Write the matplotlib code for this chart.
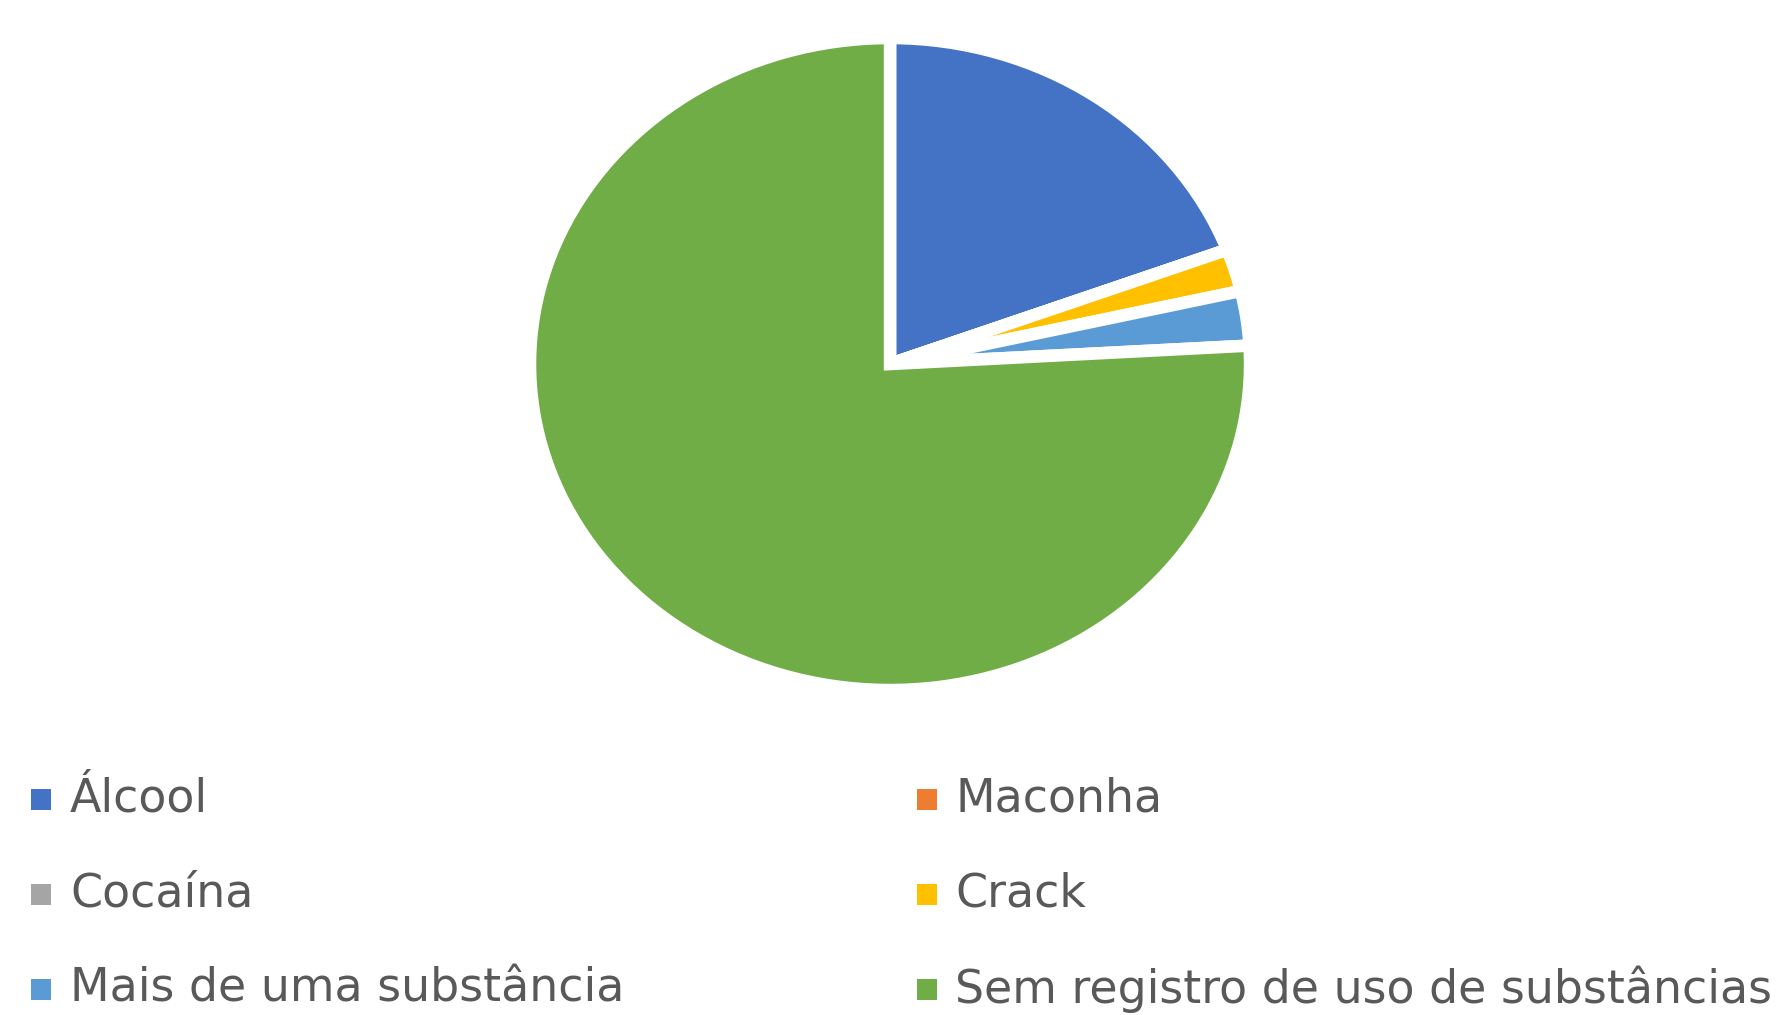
import matplotlib
matplotlib.use("Agg")
import matplotlib.pyplot as plt
from matplotlib.patches import Rectangle

# Dados (percentuais)
categorias = [
    "Álcool",
    "Maconha",
    "Cocaína",
    "Crack",
    "Mais de uma substância",
    "Sem registro de uso de substâncias",
]
valores = [19.3, 0.0, 0.0, 2.1, 2.7, 75.9]
cores = ["#4472C4", "#ED7D31", "#A5A5A5", "#FFC000", "#5B9BD5", "#70AD47"]

# Figura
fig = plt.figure(figsize=(17.76, 10.15), dpi=100)

# Eixo da pizza (levemente achatado, como no original)
ax = fig.add_axes([0.2883, 0.3041, 0.4257, 0.6745])
ax.pie(
    valores,
    colors=cores,
    startangle=90,
    counterclock=False,
    radius=1.0,
    wedgeprops=dict(edgecolor="white", linewidth=9),
)
ax.set_aspect("auto")
ax.set_xlim(-1.05, 1.05)
ax.set_ylim(-1.05, 1.05)
ax.axis("off")

# Legenda em duas colunas (ordem por linha)
x_marcador = [31, 917]
x_texto = [70, 955]
y_linhas = [799, 894, 989]
for i, (nome, cor) in enumerate(zip(categorias, cores)):
    linha, coluna = i // 2, i % 2
    yc = 1015 - y_linhas[linha]
    fig.patches.append(
        Rectangle(
            (x_marcador[coluna] / 1776, (yc - 11) / 1015),
            20 / 1776,
            21 / 1015,
            transform=fig.transFigure,
            facecolor=cor,
            edgecolor="none",
        )
    )
    fig.text(
        x_texto[coluna] / 1776,
        yc / 1015,
        nome,
        fontsize=33,
        color="#595959",
        ha="left",
        va="center",
    )

fig.savefig("out.png", dpi=100, facecolor="white")
plt.close(fig)
